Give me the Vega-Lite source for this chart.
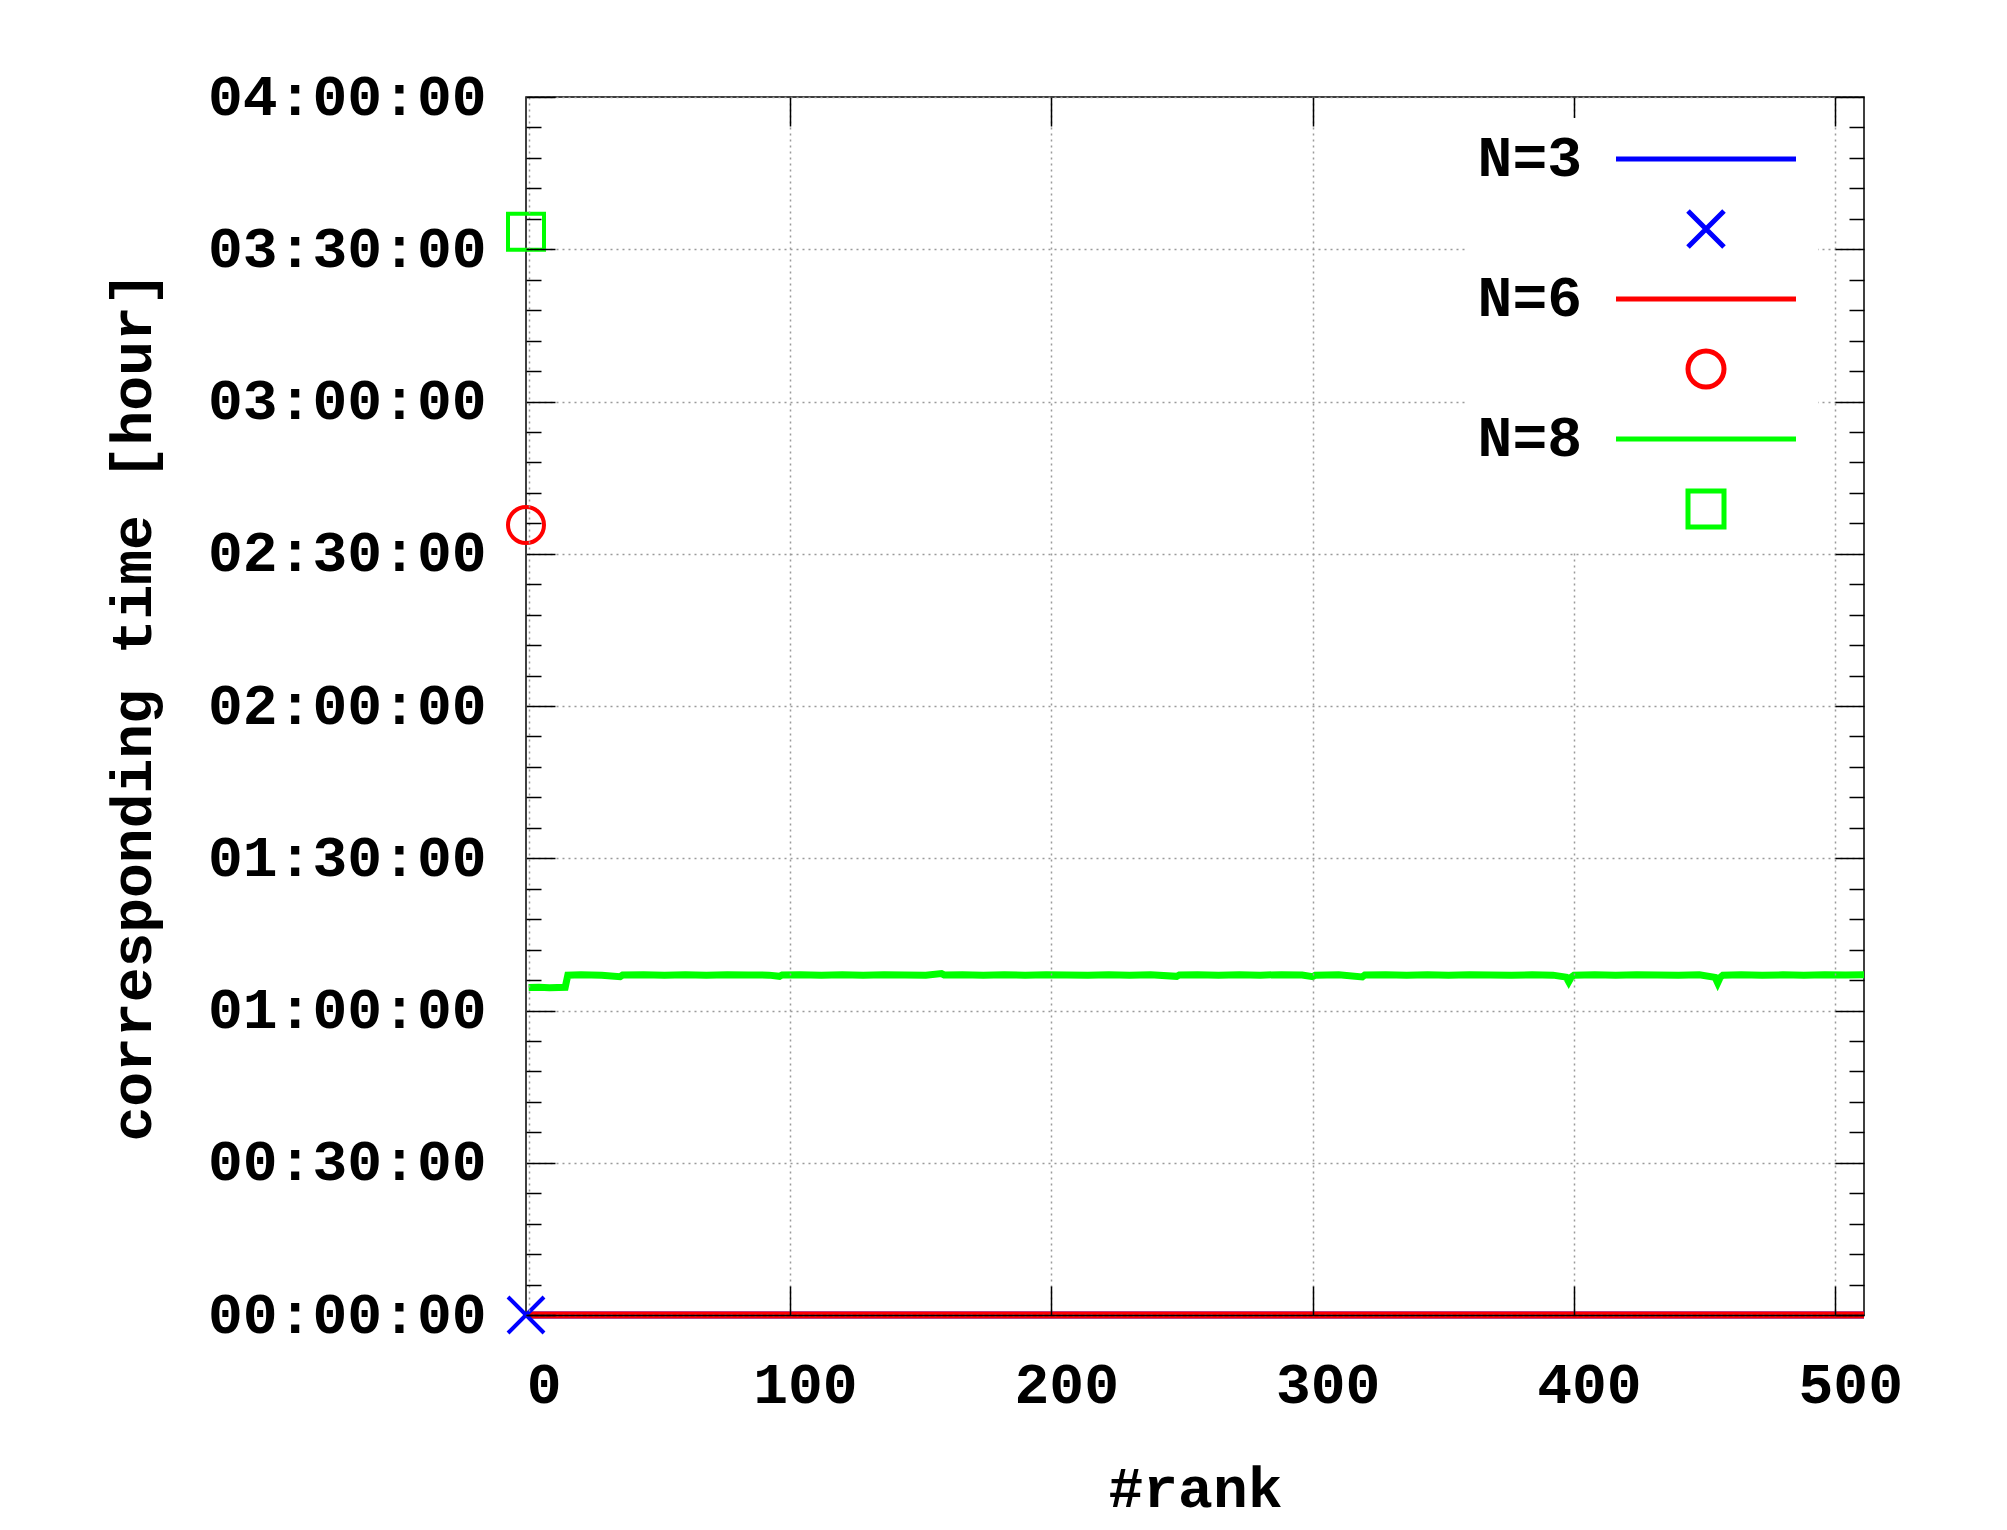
{
  "$schema": "https://vega.github.io/schema/vega-lite/v6.json",
  "width": 1338,
  "height": 1218,
  "autosize": {"type": "none"},
  "padding": {"left": 526, "top": 97, "right": 143, "bottom": 215},
  "background": "white",
  "config": {
    "font": "Liberation Mono",
    "view": {"stroke": "black", "strokeWidth": 1.5},
    "axis": {
      "labelFont": "Liberation Mono",
      "labelFontSize": 58,
      "labelFontWeight": "bold",
      "labelColor": "black",
      "labelLimit": 600,
      "titleFont": "Liberation Mono",
      "titleFontSize": 58,
      "titleFontWeight": "bold",
      "titleColor": "black",
      "tickColor": "black",
      "tickWidth": 1.5,
      "gridColor": "#9a9a9a",
      "gridDash": [2, 4],
      "gridWidth": 1.5,
      "domain": false,
      "labelOverlap": false,
      "labelFlush": false,
      "labelBound": false,
      "maxExtent": 600
    },
    "legend": {
      "title": null,
      "orient": "none",
      "legendX": 939,
      "legendY": 21,
      "direction": "vertical",
      "fillColor": "white",
      "padding": 12,
      "labelFont": "Liberation Mono",
      "labelFontSize": 58,
      "labelFontWeight": "bold",
      "labelColor": "black",
      "labelAlign": "right",
      "labelBaseline": "middle",
      "labelOffset": -153,
      "labelLimit": 400,
      "symbolOffset": 200,
      "symbolSize": 1296,
      "symbolStrokeWidth": 5,
      "rowPadding": 12,
      "zindex": 3
    }
  },
  "datasets": {
    "lines": [
      {"rank": 0, "seconds": 0, "entry": "N=3"},
      {"rank": 511, "seconds": 0, "entry": "N=3"},
      {"rank": 0, "seconds": 0, "entry": "N=6"},
      {"rank": 511, "seconds": 0, "entry": "N=6"},
      {"rank": 0, "seconds": 3872, "entry": "N=8"},
      {"rank": 4, "seconds": 3876, "entry": "N=8"},
      {"rank": 8, "seconds": 3870, "entry": "N=8"},
      {"rank": 14, "seconds": 3874, "entry": "N=8"},
      {"rank": 15, "seconds": 4018, "entry": "N=8"},
      {"rank": 20, "seconds": 4024, "entry": "N=8"},
      {"rank": 28, "seconds": 4016, "entry": "N=8"},
      {"rank": 35, "seconds": 4000, "entry": "N=8"},
      {"rank": 36, "seconds": 4020, "entry": "N=8"},
      {"rank": 44, "seconds": 4024, "entry": "N=8"},
      {"rank": 52, "seconds": 4018, "entry": "N=8"},
      {"rank": 60, "seconds": 4022, "entry": "N=8"},
      {"rank": 68, "seconds": 4016, "entry": "N=8"},
      {"rank": 76, "seconds": 4024, "entry": "N=8"},
      {"rank": 84, "seconds": 4020, "entry": "N=8"},
      {"rank": 92, "seconds": 4018, "entry": "N=8"},
      {"rank": 96, "seconds": 4004, "entry": "N=8"},
      {"rank": 97, "seconds": 4020, "entry": "N=8"},
      {"rank": 104, "seconds": 4024, "entry": "N=8"},
      {"rank": 112, "seconds": 4016, "entry": "N=8"},
      {"rank": 120, "seconds": 4022, "entry": "N=8"},
      {"rank": 128, "seconds": 4018, "entry": "N=8"},
      {"rank": 136, "seconds": 4024, "entry": "N=8"},
      {"rank": 144, "seconds": 4020, "entry": "N=8"},
      {"rank": 152, "seconds": 4016, "entry": "N=8"},
      {"rank": 158, "seconds": 4036, "entry": "N=8"},
      {"rank": 159, "seconds": 4020, "entry": "N=8"},
      {"rank": 166, "seconds": 4022, "entry": "N=8"},
      {"rank": 174, "seconds": 4016, "entry": "N=8"},
      {"rank": 182, "seconds": 4024, "entry": "N=8"},
      {"rank": 190, "seconds": 4018, "entry": "N=8"},
      {"rank": 198, "seconds": 4022, "entry": "N=8"},
      {"rank": 206, "seconds": 4020, "entry": "N=8"},
      {"rank": 214, "seconds": 4016, "entry": "N=8"},
      {"rank": 222, "seconds": 4024, "entry": "N=8"},
      {"rank": 230, "seconds": 4018, "entry": "N=8"},
      {"rank": 238, "seconds": 4022, "entry": "N=8"},
      {"rank": 248, "seconds": 4004, "entry": "N=8"},
      {"rank": 249, "seconds": 4020, "entry": "N=8"},
      {"rank": 256, "seconds": 4024, "entry": "N=8"},
      {"rank": 264, "seconds": 4016, "entry": "N=8"},
      {"rank": 272, "seconds": 4022, "entry": "N=8"},
      {"rank": 280, "seconds": 4018, "entry": "N=8"},
      {"rank": 288, "seconds": 4024, "entry": "N=8"},
      {"rank": 296, "seconds": 4020, "entry": "N=8"},
      {"rank": 300, "seconds": 4000, "entry": "N=8"},
      {"rank": 301, "seconds": 4018, "entry": "N=8"},
      {"rank": 310, "seconds": 4022, "entry": "N=8"},
      {"rank": 319, "seconds": 3996, "entry": "N=8"},
      {"rank": 320, "seconds": 4020, "entry": "N=8"},
      {"rank": 328, "seconds": 4024, "entry": "N=8"},
      {"rank": 336, "seconds": 4016, "entry": "N=8"},
      {"rank": 344, "seconds": 4022, "entry": "N=8"},
      {"rank": 352, "seconds": 4018, "entry": "N=8"},
      {"rank": 360, "seconds": 4024, "entry": "N=8"},
      {"rank": 368, "seconds": 4020, "entry": "N=8"},
      {"rank": 376, "seconds": 4016, "entry": "N=8"},
      {"rank": 384, "seconds": 4022, "entry": "N=8"},
      {"rank": 392, "seconds": 4018, "entry": "N=8"},
      {"rank": 397, "seconds": 3995, "entry": "N=8"},
      {"rank": 398, "seconds": 3940, "entry": "N=8"},
      {"rank": 399, "seconds": 3995, "entry": "N=8"},
      {"rank": 400, "seconds": 4016, "entry": "N=8"},
      {"rank": 408, "seconds": 4022, "entry": "N=8"},
      {"rank": 416, "seconds": 4018, "entry": "N=8"},
      {"rank": 424, "seconds": 4024, "entry": "N=8"},
      {"rank": 432, "seconds": 4020, "entry": "N=8"},
      {"rank": 440, "seconds": 4016, "entry": "N=8"},
      {"rank": 448, "seconds": 4022, "entry": "N=8"},
      {"rank": 454, "seconds": 3992, "entry": "N=8"},
      {"rank": 455, "seconds": 3925, "entry": "N=8"},
      {"rank": 456, "seconds": 3992, "entry": "N=8"},
      {"rank": 457, "seconds": 4018, "entry": "N=8"},
      {"rank": 464, "seconds": 4024, "entry": "N=8"},
      {"rank": 472, "seconds": 4016, "entry": "N=8"},
      {"rank": 480, "seconds": 4022, "entry": "N=8"},
      {"rank": 488, "seconds": 4018, "entry": "N=8"},
      {"rank": 496, "seconds": 4024, "entry": "N=8"},
      {"rank": 504, "seconds": 4020, "entry": "N=8"},
      {"rank": 511, "seconds": 4022, "entry": "N=8"}
    ],
    "points": [
      {"rank": -1, "seconds": 0, "entry": "N=3pt"},
      {"rank": -1, "seconds": 9340, "entry": "N=6pt"},
      {"rank": -1, "seconds": 12808, "entry": "N=8pt"}
    ]
  },
  "layer": [
    {
      "data": {"name": "lines"},
      "mark": {"type": "line", "strokeWidth": 7, "strokeCap": "butt"},
      "encoding": {
        "x": {
          "field": "rank", "type": "quantitative",
          "scale": {"domain": [-1, 511], "nice": false, "zero": false},
          "axis": {
            "orient": "bottom",
            "values": [0, 100, 200, 300, 400, 500],
            "ticks": false,
            "tickSize": 0,
            "labelPadding": 41,
            "labelOffset": 15,
            "grid": true,
            "title": "#rank",
            "titlePadding": 46,
            "domain": true,
            "domainColor": "black",
            "domainWidth": 1.5,
            "zindex": 1
          }
        },
        "y": {
          "field": "seconds", "type": "quantitative",
          "scale": {"domain": [0, 14400], "nice": false, "zero": true},
          "axis": {
            "orient": "left",
            "values": [1800, 3600, 5400, 7200, 9000, 10800, 12600, 0, 14400],
            "ticks": false,
            "tickSize": 0,
            "labelPadding": 40,
            "labelExpr": "utcFormat(datum.value * 1000, '%H:%M:%S')",
            "grid": true,
            "title": "corresponding time [hour]",
            "titlePadding": 45,
            "zindex": 1
          }
        },
        "color": {
          "field": "entry", "type": "nominal",
          "scale": {
            "domain": ["N=3", "N=3pt", "N=6", "N=6pt", "N=8", "N=8pt"],
            "range": ["#0000ff", "#0000ff", "#ff0000", "#ff0000", "#00ff00", "#00ff00"]
          },
          "legend": {"labelExpr": "length(datum.label) > 3 ? '' : datum.label"}
        }
      }
    },
    {
      "data": {"name": "points"},
      "mark": {"type": "point", "filled": false, "size": 1296, "strokeWidth": 4, "opacity": 1, "clip": false},
      "encoding": {
        "x": {
          "field": "rank", "type": "quantitative",
          "axis": {
            "orient": "top",
            "values": [100, 200, 300, 400, 500],
            "labels": false,
            "tickSize": -29,
            "grid": false,
            "title": null,
            "zindex": 1
          }
        },
        "y": {
          "field": "seconds", "type": "quantitative",
          "axis": {
            "orient": "right",
            "values": [0, 1800, 3600, 5400, 7200, 9000, 10800, 12600, 14400],
            "labels": false,
            "tickSize": -29,
            "grid": false,
            "title": null,
            "zindex": 1
          }
        },
        "color": {
          "field": "entry", "type": "nominal",
          "legend": {"labelExpr": "length(datum.label) > 3 ? '' : datum.label"}
        },
        "shape": {
          "field": "entry", "type": "nominal",
          "scale": {
            "domain": ["N=3", "N=3pt", "N=6", "N=6pt", "N=8", "N=8pt"],
            "range": ["M-5,0L5,0", "M-1,-1L1,1M-1,1L1,-1", "M-5,0L5,0", "circle", "M-5,0L5,0", "square"]
          },
          "legend": {"labelExpr": "length(datum.label) > 3 ? '' : datum.label"}
        }
      }
    },
    {
      "data": {"name": "lines"},
      "mark": {"type": "line", "opacity": 0},
      "encoding": {
        "x": {
          "field": "rank", "type": "quantitative",
          "axis": {
            "orient": "bottom",
            "values": [100, 200, 300, 400, 500],
            "labels": false,
            "tickSize": -29,
            "grid": false,
            "title": null,
            "zindex": 1
          }
        },
        "y": {
          "field": "seconds", "type": "quantitative",
          "axis": {
            "orient": "left",
            "values": [0, 1800, 3600, 5400, 7200, 9000, 10800, 12600, 14400],
            "labels": false,
            "tickSize": -29,
            "grid": false,
            "title": null,
            "zindex": 1
          }
        }
      }
    },
    {
      "data": {"name": "lines"},
      "mark": {"type": "line", "opacity": 0},
      "encoding": {
        "x": {"field": "rank", "type": "quantitative", "axis": null},
        "y": {
          "field": "seconds", "type": "quantitative",
          "axis": {
            "orient": "left",
            "values": [360, 720, 1080, 1440, 2160, 2520, 2880, 3240, 3960, 4320, 4680, 5040, 5760, 6120, 6480, 6840, 7560, 7920, 8280, 8640, 9360, 9720, 10080, 10440, 11160, 11520, 11880, 12240, 12960, 13320, 13680, 14040],
            "labels": false,
            "tickSize": -15,
            "grid": false,
            "title": null,
            "zindex": 1
          }
        }
      }
    },
    {
      "data": {"name": "lines"},
      "mark": {"type": "line", "opacity": 0},
      "encoding": {
        "x": {"field": "rank", "type": "quantitative", "axis": null},
        "y": {
          "field": "seconds", "type": "quantitative",
          "axis": {
            "orient": "right",
            "values": [360, 720, 1080, 1440, 2160, 2520, 2880, 3240, 3960, 4320, 4680, 5040, 5760, 6120, 6480, 6840, 7560, 7920, 8280, 8640, 9360, 9720, 10080, 10440, 11160, 11520, 11880, 12240, 12960, 13320, 13680, 14040],
            "labels": false,
            "tickSize": -15,
            "grid": false,
            "title": null,
            "zindex": 1
          }
        }
      }
    }
  ],
  "resolve": {"axis": {"x": "independent", "y": "independent"}}
}
